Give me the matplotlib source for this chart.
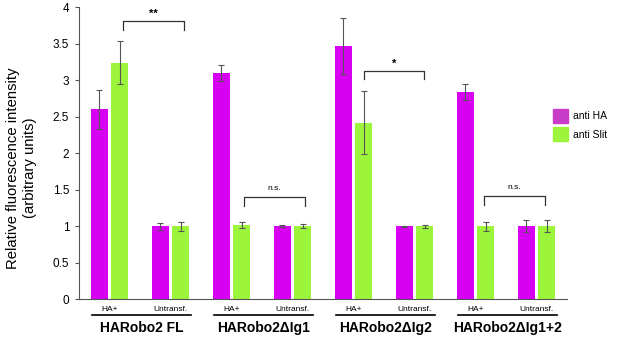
import matplotlib.pyplot as plt
import numpy as np
from matplotlib.patches import Patch

plt.rcParams['font.family'] = ['Liberation Sans', 'DejaVu Sans']

# === data ===
constructs = ["HARobo2 FL", "HARobo2\u0394Ig1", "HARobo2\u0394Ig2", "HARobo2\u0394Ig1+2"]
conditions = ["HA+", "Untransf."]
anti_ha = [2.60, 1.00, 3.10, 1.00, 3.47, 1.00, 2.84, 1.00]
anti_ha_err = [0.27, 0.05, 0.11, 0.015, 0.38, 0.01, 0.11, 0.08]
anti_slit = [3.24, 1.00, 1.02, 1.00, 2.42, 1.00, 1.00, 1.00]
anti_slit_err = [0.29, 0.06, 0.04, 0.03, 0.43, 0.02, 0.06, 0.08]
# significance: (start pos, end pos, height, label)
sig_from = [0.22, 2.2, 4.17, 6.14]
sig_to = [1.22, 3.2, 5.16, 7.14]
sig_y = [3.81, 1.40, 3.13, 1.41]
sig_text = ["**", "n.s.", "*", "n.s."]

magenta = '#D800F2'
green = '#9CF53A'

fig = plt.figure(figsize=(6.17, 3.38), dpi=100)
ax = fig.add_axes([0.128, 0.1145, 0.791, 0.8645])

x = np.arange(len(anti_ha))
w = 0.28
off = 0.168
ekw = dict(ecolor='#555555', elinewidth=0.8, capsize=2, capthick=0.8)
ax.bar(x - off, anti_ha, w, yerr=anti_ha_err, color=magenta, error_kw=ekw)
ax.bar(x + off, anti_slit, w, yerr=anti_slit_err, color=green, error_kw=ekw)

ax.set_xlim(-0.5, 7.5)
ax.set_ylim(0, 4)
ax.set_yticks(np.arange(0, 4.01, 0.5))
ax.set_yticklabels(['0', '0.5', '1', '1.5', '2', '2.5', '3', '3.5', '4'], fontsize=8.5)
ax.tick_params(axis='y', length=3, width=0.8, color='#555555', pad=4)
ax.set_xticks([])
for s in ['top', 'right']:
    ax.spines[s].set_visible(False)
ax.spines['left'].set_color('#555555')
ax.spines['bottom'].set_color('#555555')
ax.set_ylabel("Relative fluorescence intensity\n(arbitrary units)", fontsize=10.7)
ax.yaxis.set_label_coords(-0.087, 0.45)

# brackets
for a, b, y, t in zip(sig_from, sig_to, sig_y, sig_text):
    ax.plot([a, a, b, b], [y - 0.12, y, y, y - 0.12], color='#333333', lw=0.9, clip_on=False)
    if t == "n.s.":
        ax.text((a + b) / 2, y + 0.07, t, ha='center', va='bottom', fontsize=6)
    else:
        ax.text((a + b) / 2, y + 0.03, t, ha='center', va='bottom', fontsize=8, fontweight='bold')

# sub labels and group labels
trans = ax.get_xaxis_transform()
for i in range(len(x)):
    ax.text(x[i], -0.022, conditions[i % 2], transform=trans, ha='center', va='top', fontsize=6)
for g, name in enumerate(constructs):
    ax.plot([2 * g - 0.28, 2 * g + 1.34], [-0.055, -0.055], transform=trans, color='black',
            lw=1.2, clip_on=False)
    ax.text(2 * g + 0.53, -0.075, name, transform=trans, ha='center', va='top',
            fontsize=10, fontweight='bold')

handles = [Patch(color='#C83CC8'), Patch(color='#9CF53A')]
fig.legend(handles, ['anti HA', 'anti Slit'], loc='center left', bbox_to_anchor=(0.897, 0.63),
           frameon=False, fontsize=7.5, handlelength=1.4, handleheight=1.6, handletextpad=0.5,
           labelspacing=0.45, borderpad=0, borderaxespad=0)

fig.savefig('out.png', dpi=100)
